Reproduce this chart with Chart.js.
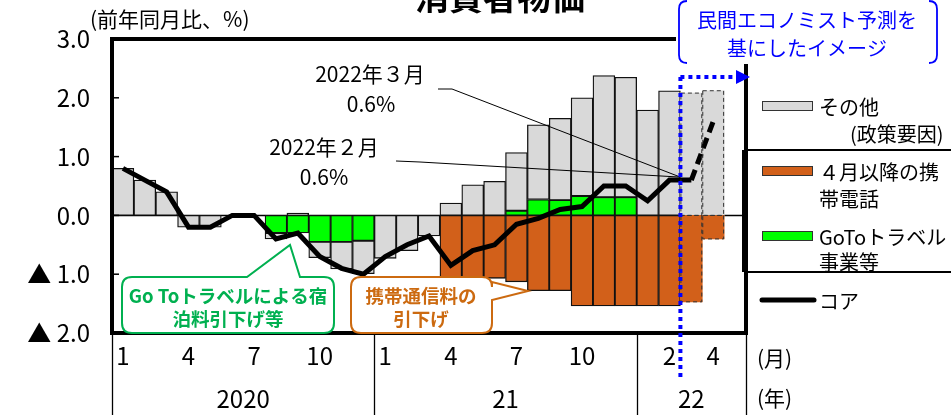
<!DOCTYPE html>
<html lang="ja">
<head>
<meta charset="utf-8">
<title>消費者物価</title>
<script src="https://cdn.jsdelivr.net/npm/chart.js@4.4.1/dist/chart.umd.min.js"></script>
<style>
  html, body { margin: 0; padding: 0; background: #fff; }
  #wrap { position: relative; width: 951px; height: 415px; }
</style>
</head>
<body>
<div id="wrap"><canvas id="cpi" width="951" height="415"></canvas></div>
<script>
// Jan 2020 .. Apr 2022, one empty slot kept at the end like the original
const months = [
  '2020-01','2020-02','2020-03','2020-04','2020-05','2020-06','2020-07','2020-08','2020-09','2020-10','2020-11','2020-12',
  '2021-01','2021-02','2021-03','2021-04','2021-05','2021-06','2021-07','2021-08','2021-09','2021-10','2021-11','2021-12',
  '2022-01','2022-02','2022-03','2022-04','2022-05'
];
const monthTicks = [
  '1','','','4','','','7','','','10','','',
  '1','','','4','','','7','','','10','','',
  '','2','','4',''
];
const years = ['2020', '21', '22'];
const yearStart = [0, 12, 24];
const yearEnd = [12, 24, 29];

// contributions (%pt)
const other = [
  0.8, 0.6, 0.4, -0.2, -0.2, null, null, -0.1, 0.04, -0.27, -0.46, -0.56,
  -0.73, -0.6, -0.35, 0.21, 0.52, 0.58, 0.99, 1.27, 1.39, 1.67, 2.07, 2.04,
  1.79, 2.12, 2.08, 2.12, null
];
const mobile = [
  null, null, null, null, null, null, null, null, null, null, null, null,
  null, null, null, -1.06, -1.07, -1.07, -1.13, -1.28, -1.28, -1.54, -1.54, -1.54,
  -1.54, -1.54, -1.47, -0.4, null
];
const goto = [
  null, null, null, null, null, null, null, -0.3, -0.3, -0.45, -0.45, -0.43,
  null, null, null, null, null, null, 0.08, 0.27, 0.26, 0.33, 0.31, 0.31,
  null, null, null, null, null
];
const core = [
  0.8, 0.6, 0.4, -0.2, -0.2, 0.0, 0.0, -0.4, -0.3, -0.7, -0.9, -1.0,
  -0.7, -0.5, -0.35, -0.85, -0.6, -0.5, -0.15, -0.05, 0.1, 0.15, 0.5, 0.5,
  0.25, 0.6, 0.6, 1.6, null
];
const forecastFrom = 26; // Mar 2022 onward is the economists' projection

const yTicks = [3, 2, 1, 0, -1, -2];

const JP = "'Noto Sans CJK JP', sans-serif";
const GRAY = '#d9d9d9', ORANGE = '#d2601a', GREEN = '#00ff00';

function bracketLeft(ctx, x, y0, y1, r) {
  ctx.beginPath();
  ctx.moveTo(x + r, y0);
  ctx.quadraticCurveTo(x, y0, x, y0 + r);
  ctx.lineTo(x, y1 - r);
  ctx.quadraticCurveTo(x, y1, x + r, y1);
  ctx.stroke();
}
function bracketRight(ctx, x, y0, y1, r) {
  ctx.beginPath();
  ctx.moveTo(x - r, y0);
  ctx.quadraticCurveTo(x, y0, x, y0 + r);
  ctx.lineTo(x, y1 - r);
  ctx.quadraticCurveTo(x, y1, x - r, y1);
  ctx.stroke();
}

// rounded box with a pointer; pts = notch points inserted on one side
function callout(ctx, x0, y0, x1, y1, r, side, pts) {
  ctx.beginPath();
  ctx.moveTo(x0 + r, y0);
  if (side === 'top') pts.forEach(p => ctx.lineTo(p[0], p[1]));
  ctx.lineTo(x1 - r, y0);
  ctx.quadraticCurveTo(x1, y0, x1, y0 + r);
  if (side === 'right') pts.forEach(p => ctx.lineTo(p[0], p[1]));
  ctx.lineTo(x1, y1 - r);
  ctx.quadraticCurveTo(x1, y1, x1 - r, y1);
  ctx.lineTo(x0 + r, y1);
  ctx.quadraticCurveTo(x0, y1, x0, y1 - r);
  ctx.lineTo(x0, y0 + r);
  ctx.quadraticCurveTo(x0, y0, x0 + r, y0);
  ctx.closePath();
  ctx.fillStyle = '#fff';
  ctx.fill();
  ctx.stroke();
}

const decorations = {
  id: 'decorations',
  beforeDatasetsDraw(chart) {
    const { ctx, chartArea: a, scales: { y } } = chart;
    const y0 = y.getPixelForValue(0);
    ctx.save();
    ctx.strokeStyle = '#000';
    ctx.lineWidth = 1.5;
    ctx.beginPath();
    ctx.moveTo(a.left, y0);
    ctx.lineTo(a.right, y0);
    ctx.stroke();
    ctx.restore();
  },
  afterDatasetsDraw(chart) {
    const { ctx } = chart;
    // dashed outline for the projected months
    ctx.save();
    ctx.strokeStyle = '#333';
    ctx.lineWidth = 1;
    ctx.setLineDash([4, 3]);
    [0, 1, 2].forEach(di => {
      const meta = chart.getDatasetMeta(di);
      meta.data.forEach((el, i) => {
        if (i < forecastFrom || chart.data.datasets[di].data[i] == null) return;
        const top = Math.min(el.y, el.base), h = Math.abs(el.base - el.y);
        ctx.strokeRect(el.x - el.width / 2 + 0.5, top, el.width - 1, h);
      });
    });
    ctx.restore();
  },
  afterDraw(chart) {
    const { ctx, chartArea: a, scales: { x, y } } = chart;
    const slot = x.getPixelForValue(1) - x.getPixelForValue(0);
    ctx.save();

    // y ticks pointing inward
    ctx.strokeStyle = '#000';
    ctx.lineWidth = 1.5;
    yTicks.forEach(v => {
      const py = y.getPixelForValue(v);
      ctx.beginPath();
      ctx.moveTo(a.left, py);
      ctx.lineTo(a.left + 7, py);
      ctx.stroke();
    });

    // leader lines to the Feb/Mar 2022 values
    const ex = (x.getPixelForValue(25) + x.getPixelForValue(26)) / 2;
    const ey = y.getPixelForValue(core[25]) - 3;
    ctx.lineWidth = 1;
    ctx.beginPath();
    ctx.moveTo(438, 89); ctx.lineTo(452, 89); ctx.lineTo(ex, ey);
    ctx.moveTo(396, 161); ctx.lineTo(420, 162); ctx.lineTo(ex, ey);
    ctx.stroke();

    // plot frame
    ctx.lineWidth = 4;
    ctx.strokeRect(a.left, a.top, a.right - a.left, a.bottom - a.top);
    // bracket for the policy items
    ctx.lineWidth = 6;
    ctx.beginPath();
    ctx.moveTo(a.right - 1, 150); ctx.lineTo(a.right - 1, 272);
    ctx.stroke();
    ctx.lineWidth = 2.2;
    ctx.beginPath();
    ctx.moveTo(a.right, 150); ctx.lineTo(951, 150);
    ctx.moveTo(a.right, 272); ctx.lineTo(951, 272);
    ctx.stroke();

    // year dividers and labels under the axis
    ctx.lineWidth = 1.3;
    const edges = [0, 12, 24, 29].map(i => x.getPixelForValue(0) - slot / 2 + i * slot);
    edges.forEach(px => {
      ctx.beginPath();
      ctx.moveTo(Math.round(px) + 0.5, a.bottom);
      ctx.lineTo(Math.round(px) + 0.5, 415);
      ctx.stroke();
    });
    ctx.fillStyle = '#000';
    ctx.font = '24px ' + JP;
    ctx.textAlign = 'center';
    ctx.textBaseline = 'middle';
    years.forEach((t, k) => {
      const l = x.getPixelForValue(yearStart[k]) - slot / 2;
      const r = x.getPixelForValue(yearEnd[k] - 1) + slot / 2;
      ctx.fillText(t, (l + r) / 2, 399);
    });
    ctx.textAlign = 'left';
    ctx.font = '21px ' + JP;
    ctx.fillText('(月)', 757, 358);
    ctx.fillText('(年)', 757, 398);

    // legend
    ctx.lineWidth = 1;
    ctx.strokeStyle = '#333';
    [[GRAY, 106], [ORANGE, 171], [GREEN, 236]].forEach(([c, cy]) => {
      ctx.fillStyle = c;
      ctx.fillRect(762, cy - 4.5, 50, 9);
      ctx.strokeRect(762.5, cy - 4.5, 50, 9);
    });
    ctx.strokeStyle = '#000';
    ctx.lineWidth = 5;
    ctx.lineCap = 'round';
    ctx.beginPath();
    ctx.moveTo(762, 300); ctx.lineTo(814, 300);
    ctx.stroke();
    ctx.lineCap = 'butt';
    ctx.fillStyle = '#000';
    ctx.font = '20px ' + JP;
    ctx.fillText('その他', 819, 107);
    ctx.fillText('(政策要因)', 850, 134);
    ctx.fillText('４月以降の携', 819, 172);
    ctx.fillText('帯電話', 819, 199);
    ctx.fillText('GoToトラベル', 819, 237);
    ctx.fillText('事業等', 819, 262);
    ctx.fillText('コア', 819, 301);

    // value notes
    ctx.textAlign = 'center';
    ctx.font = '21px ' + JP;
    ctx.fillText('2022年３月', 370, 74);
    ctx.fillText('0.6%', 371, 104);
    ctx.fillText('2022年２月', 324, 147);
    ctx.fillText('0.6%', 324, 177);

    // callouts
    ctx.lineWidth = 2;
    ctx.strokeStyle = '#00b050';
    callout(ctx, 122, 277, 334, 333, 10, 'top', [[247, 277], [290, 245], [300, 277]]);
    ctx.strokeStyle = '#cc6a10';
    callout(ctx, 351, 277, 492, 333, 10, 'right', [[492, 282], [528, 291], [492, 300]]);
    ctx.font = 'bold 18.5px ' + JP;
    ctx.fillStyle = '#00b050';
    ctx.fillText('Go Toトラベルによる宿', 228, 296);
    ctx.fillText('泊料引下げ等', 228, 319);
    ctx.fillStyle = '#cc6a10';
    ctx.fillText('携帯通信料の', 421, 296);
    ctx.fillText('引下げ', 421, 319);

    // projection marker: blue box, dotted guide and arrow
    ctx.fillStyle = '#fff';
    ctx.fillRect(676, 0, 264, 64);
    ctx.strokeStyle = '#0000ff';
    ctx.lineWidth = 1.8;
    bracketLeft(ctx, 679, 1, 63, 8);
    bracketRight(ctx, 937, 1, 63, 8);
    ctx.fillStyle = '#0000ff';
    ctx.font = '20px ' + JP;
    ctx.fillText('民間エコノミスト予測を', 807, 20);
    ctx.fillText('基にしたイメージ', 807, 48);

    ctx.lineWidth = 4;
    ctx.setLineDash([4, 4]);
    ctx.beginPath();
    ctx.moveTo(ex, 77); ctx.lineTo(ex, 381);
    ctx.moveTo(ex, 77); ctx.lineTo(738, 77);
    ctx.stroke();
    ctx.setLineDash([]);
    ctx.beginPath();
    ctx.moveTo(736, 70); ctx.lineTo(750, 77); ctx.lineTo(736, 84);
    ctx.closePath();
    ctx.fill();

    // title (cut by the top edge) and unit
    ctx.fillStyle = '#000';
    ctx.font = 'bold 34px ' + JP;
    ctx.textBaseline = 'alphabetic';
    ctx.fillText('消費者物価', 500, 10);
    ctx.textBaseline = 'middle';
    ctx.textAlign = 'left';
    ctx.font = '21px ' + JP;
    ctx.fillText('(前年同月比、%)', 90, 19);

    ctx.restore();
  }
};

const barBorder = c => (c.dataIndex >= forecastFrom ? 0 : 1.3);

const config = {
  type: 'bar',
  data: {
    labels: months,
    datasets: [
      { label: '４月以降の携帯電話', data: mobile, backgroundColor: ORANGE, borderColor: '#111',
        borderWidth: barBorder, borderSkipped: false, order: 2 },
      { label: 'GoToトラベル事業等', data: goto, backgroundColor: GREEN, borderColor: '#111',
        borderWidth: barBorder, borderSkipped: false, order: 2 },
      { label: 'その他（政策要因）', data: other, backgroundColor: GRAY, borderColor: '#111',
        borderWidth: barBorder, borderSkipped: false, order: 2 },
      {
        type: 'line', label: 'コア', data: core, stack: 'core', order: 1,
        borderColor: '#000', borderWidth: 5, pointRadius: 0, tension: 0,
        segment: { borderDash: c => (c.p0DataIndex >= forecastFrom ? [11, 6] : undefined) }
      }
    ]
  },
  options: {
    responsive: false,
    animation: false,
    layout: { padding: { top: 39, right: 205, left: 0, bottom: 0 } },
    datasets: { bar: { barPercentage: 1, categoryPercentage: 1 } },
    scales: {
      x: {
        stacked: true,
        grid: { display: false, drawTicks: false },
        border: { display: false },
        afterFit: s => { s.height = 82; },
        ticks: {
          autoSkip: false, maxRotation: 0, padding: 8,
          color: '#000', font: { family: JP, size: 24 },
          callback: (v, i) => monthTicks[i]
        }
      },
      y: {
        stacked: true,
        min: -2, max: 3,
        grid: { display: false, drawTicks: false },
        border: { display: false },
        afterFit: s => { s.width = 112; },
        ticks: {
          stepSize: 1, padding: 22,
          color: '#000', font: { family: JP, size: 24 },
          callback: v => (v < 0 ? '▲ ' + Math.abs(v).toFixed(1) : v.toFixed(1))
        }
      }
    },
    plugins: { legend: { display: false }, tooltip: { enabled: false } }
  },
  plugins: [decorations]
};

new Chart(document.getElementById('cpi'), config);
</script>
</body>
</html>
